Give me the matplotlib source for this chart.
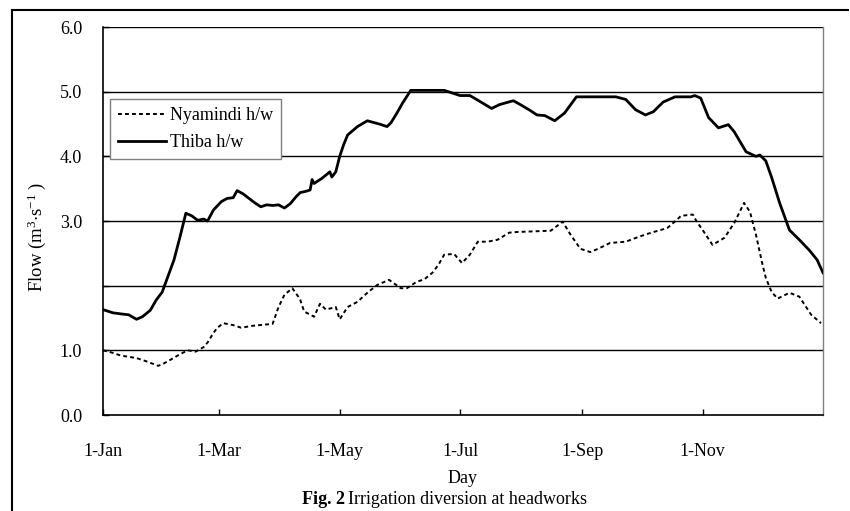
import matplotlib
matplotlib.use("Agg")
from matplotlib import pyplot as plt
from matplotlib.lines import Line2D

plt.rcParams['font.family'] = ['Liberation Serif', 'DejaVu Serif']
plt.rcParams['mathtext.fontset'] = 'custom'
plt.rcParams['mathtext.rm'] = 'Liberation Serif'
plt.rcParams['mathtext.it'] = 'Liberation Serif:italic'

# day of year (0 = 1-Jan) and flow in m3/s
thiba_days = [0, 5, 10, 13, 17, 20, 24, 27, 30, 33, 36, 39, 42, 45, 48, 51, 53, 56, 60, 63,
              66, 68, 71, 74, 77, 80, 83, 86, 89, 92, 95, 98, 100, 103, 105, 106, 107, 111, 115, 116,
              118, 120, 122, 124, 129, 134, 140, 144, 146, 149, 152, 156, 173, 181, 186, 191, 197, 201, 208, 211,
              216, 220, 224, 229, 234, 240, 260, 265, 270, 275, 279, 284, 290, 298, 300, 303, 307, 312, 317, 320,
              326, 331, 333, 336, 339, 343, 348, 353, 358, 362, 365]
thiba_flow = [1.63, 1.58, 1.56, 1.55, 1.48, 1.52, 1.62, 1.78, 1.9, 2.15, 2.4, 2.75, 3.12, 3.08, 3.01, 3.03, 3.0, 3.17, 3.3, 3.35,
              3.36, 3.47, 3.42, 3.35, 3.28, 3.22, 3.25, 3.24, 3.25, 3.2, 3.27, 3.38, 3.44, 3.46, 3.48, 3.64, 3.58, 3.66, 3.76, 3.68,
              3.76, 4.0, 4.18, 4.33, 4.46, 4.55, 4.5, 4.46, 4.52, 4.67, 4.83, 5.02, 5.02, 4.94, 4.94, 4.85, 4.74, 4.8, 4.86, 4.81,
              4.72, 4.64, 4.63, 4.55, 4.67, 4.92, 4.92, 4.88, 4.72, 4.64, 4.69, 4.84, 4.92, 4.92, 4.94, 4.9, 4.6, 4.44, 4.49, 4.38,
              4.07, 4.0, 4.02, 3.93, 3.67, 3.28, 2.86, 2.71, 2.55, 2.4, 2.2]

nyamindi_days = [0, 4, 9, 13, 17, 22, 28, 31, 34, 39, 43, 47, 51, 53, 56, 58, 61, 66, 70, 76,
                 86, 89, 92, 96, 99, 100, 102, 107, 110, 113, 118, 120, 124, 129, 134, 139, 145, 151, 154, 159,
                 163, 167, 170, 173, 178, 182, 186, 190, 195, 200, 206, 210, 227, 233, 237, 242, 247, 251, 257, 265,
                 272, 278, 286, 291, 293, 299, 301, 304, 309, 315, 317, 320, 325, 328, 329, 331, 334, 336, 339, 342,
                 348, 353, 359, 364]
nyamindi_flow = [1.0, 0.97, 0.92, 0.9, 0.88, 0.83, 0.76, 0.8, 0.85, 0.94, 1.0, 0.98, 1.05, 1.12, 1.27, 1.35, 1.42, 1.39, 1.35, 1.38,
                 1.41, 1.67, 1.86, 1.96, 1.83, 1.78, 1.6, 1.52, 1.72, 1.63, 1.67, 1.48, 1.67, 1.75, 1.89, 2.01, 2.09, 1.96, 1.96, 2.06,
                 2.1, 2.2, 2.32, 2.48, 2.49, 2.35, 2.48, 2.68, 2.68, 2.71, 2.82, 2.83, 2.85, 2.99, 2.79, 2.57, 2.52, 2.57, 2.66, 2.68,
                 2.76, 2.82, 2.89, 3.02, 3.08, 3.1, 2.99, 2.86, 2.63, 2.74, 2.83, 2.97, 3.28, 3.14, 3.02, 2.79, 2.37, 2.12, 1.9, 1.8,
                 1.89, 1.83, 1.55, 1.42]

month_days = [0, 59, 120, 181, 243, 304]
month_labels = ['1-Jan', '1-Mar', '1-May', '1-Jul', '1-Sep', '1-Nov']
y_ticks = [0, 1, 2, 3, 4, 5, 6]
y_labels = ['0.0', '1.0', '', '3.0', '4.0', '5.0', '6.0']

fs = 13

fig = plt.figure(figsize=(8.5, 5.11), dpi=100)
ax = fig.add_axes([103 / 850, 1 - 415 / 511, 720 / 850, 388 / 511])

for y in y_ticks[1:]:
    ax.axhline(y, color='black', linewidth=1.0, zorder=1)

ax.plot(nyamindi_days, nyamindi_flow, color='black', linestyle=(0, (2, 1.6)), linewidth=1.4,
        label='Nyamindi h/w', zorder=3)
ax.plot(thiba_days, thiba_flow, color='black', linestyle='-', linewidth=2.0,
        label='Thiba h/w', zorder=3)

ax.set_xlim(0, 365)
ax.set_ylim(0, 6)
ax.set_xticks(month_days)
ax.set_xticklabels(month_labels)
ax.set_yticks(y_ticks)
ax.set_yticklabels(y_labels)
ax.tick_params(axis='x', direction='in', length=4, width=1, pad=20, labelsize=fs)
ax.tick_params(axis='y', direction='in', length=4, width=1, pad=15, labelsize=fs)

for side in ['left', 'bottom']:
    ax.spines[side].set_color('black')
    ax.spines[side].set_linewidth(1.2)
ax.spines['top'].set_visible(False)
ax.spines['right'].set_color('#808080')
ax.spines['right'].set_linewidth(1.0)

ax.set_ylabel('Flow (m$^{3}$$\\cdot$s$^{-1}$ )', fontsize=fs + 0.5)
ax.yaxis.set_label_coords(-0.076, 0.46)
ax.set_xlabel('Day', fontsize=fs)
ax.xaxis.set_label_coords(0.5, -0.142)

leg = ax.legend(loc='upper left', bbox_to_anchor=(0.0097, 0.814), borderaxespad=0,
                fancybox=False, framealpha=1, edgecolor='#808080', fontsize=fs,
                handlelength=2.65, handletextpad=0.2, borderpad=0.45, labelspacing=0.55)
leg.get_frame().set_linewidth(1.0)
leg.set_zorder(5)

# caption with bold figure number
fig.text(345 / 850, 1 - 499 / 511, 'Fig. 2', fontsize=fs, fontweight='bold', ha='right', va='center')
fig.text(348 / 850, 1 - 499 / 511, 'Irrigation diversion at headworks', fontsize=fs, ha='left', va='center')

# outer frame around the figure
fig.add_artist(Line2D([12 / 850, 12 / 850], [0, 1 - 10 / 511], color='black', linewidth=1.5))
fig.add_artist(Line2D([12 / 850, 848 / 850], [1 - 10 / 511, 1 - 10 / 511], color='black', linewidth=1.5))

fig.savefig('out.png', dpi=100)
